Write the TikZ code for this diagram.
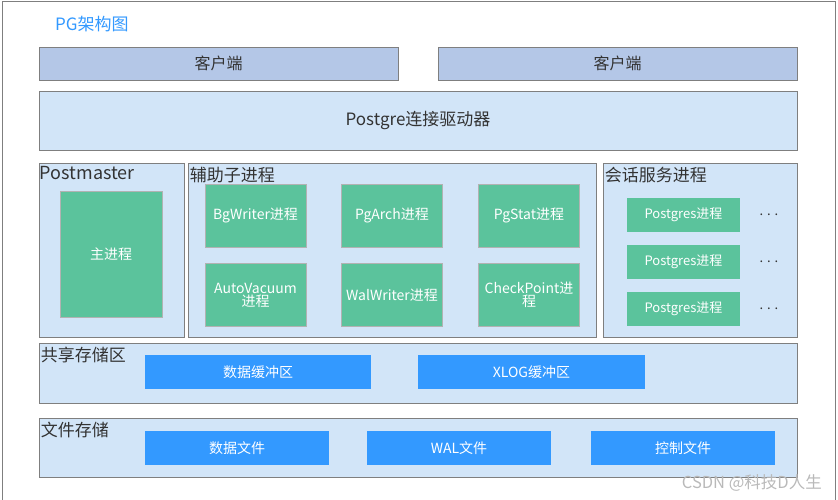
\documentclass[tikz,border=0pt]{standalone}
\usepackage{fontspec}
\setmainfont{Noto Sans CJK SC}
\usepackage{tikz}
\definecolor{clientfill}{HTML}{B4C7E7}
\definecolor{areafill}{HTML}{D2E5F8}
\definecolor{edgegray}{HTML}{7F7F7F}
\definecolor{procgreen}{HTML}{5BC39C}
\definecolor{storeblue}{HTML}{3399FF}
\definecolor{labelgray}{HTML}{333333}
\tikzset{
  area/.style={draw=edgegray, line width=0.8pt, fill=areafill, inner sep=0pt},
  client/.style={draw=edgegray, line width=0.8pt, fill=clientfill, text=labelgray,
    font=\fontsize{16}{16}\selectfont, minimum width=359pt, minimum height=33pt},
  proc/.style={draw=edgegray!60, line width=0.4pt, fill=procgreen, text=white, align=center,
    font=\fontsize{14}{13}\selectfont, minimum width=101pt, minimum height=63pt, inner sep=0pt},
  sess/.style={fill=procgreen, text=white, font=\fontsize{13}{13}\selectfont,
    minimum width=113pt, minimum height=34pt},
  store/.style={fill=storeblue, text=white, font=\fontsize{14}{14}\selectfont, minimum height=34pt},
  arealabel/.style={anchor=north west, inner xsep=2pt, inner ysep=0pt, yshift=-4pt,
    text=labelgray, font=\fontsize{17}{17}\selectfont}
}
\begin{document}
\begin{tikzpicture}[x=1pt, y=-1pt]
  \useasboundingbox (0,0) rectangle (838,500);
  \draw[edgegray, line width=0.8pt] (2,500) -- (2,1.5) -- (835,1.5) -- (835,500);

  \node[anchor=west, inner sep=0pt, text=storeblue, font=\fontsize{17}{17}\selectfont] (title) at (55,24) {PG架构图};

  % clients and driver
  \node[client] (clientL) at (218.5,63.5) {客户端};
  \node[client] (clientR) at (617.5,63.5) {客户端};
  \node[area, minimum width=758pt, minimum height=59pt, text=labelgray,
    font=\fontsize{17}{17}\selectfont] (driver) at (418,120.5) {Postgre连接驱动器};

  % postmaster
  \node[area, minimum width=145pt, minimum height=174pt] (postmaster) at (111.5,250) {};
  \node[arealabel, inner xsep=1pt, font=\fontsize{18}{18}\selectfont] (postmasterLabel) at (postmaster.north west) {Postmaster};
  \node[proc, minimum width=102pt, minimum height=126pt] (mainProc) at (111,254) {主进程};

  % auxiliary processes
  \node[area, minimum width=408pt, minimum height=174pt] (aux) at (392,250) {};
  \node[arealabel] (auxLabel) at (aux.north west) {辅助子进程};
  \node[proc] (bgwriter) at (255.5,215.5) {BgWriter进程};
  \node[proc] (pgarch) at (392,215.5) {PgArch进程};
  \node[proc] (pgstat) at (529,215.5) {PgStat进程};
  \node[proc] (autovacuum) at (255.5,295) {AutoVacuum\\进程};
  \node[proc] (walwriter) at (392,295) {WalWriter进程};
  \node[proc] (checkpoint) at (529,295) {CheckPoint进\\程};

  % session processes
  \node[area, minimum width=194pt, minimum height=174pt] (session) at (700,250) {};
  \node[arealabel] (sessionLabel) at (session.north west) {会话服务进程};
  \foreach \y [count=\i] in {215,262,309} {
    \node[sess] (pg\i) at (683.5,\y) {Postgres进程};
    \node[text=labelgray, font=\fontsize{13}{13}\selectfont] (dots\i) at (769,\y) {. . .};
  }

  % shared memory
  \node[area, minimum width=758pt, minimum height=60pt] (shared) at (418,373) {};
  \node[arealabel] (sharedLabel) at (shared.north west) {共享存储区};
  \node[store, minimum width=226pt] (databuf) at (258,372) {数据缓冲区};
  \node[store, minimum width=227pt] (xlogbuf) at (531.5,372) {XLOG缓冲区};

  % file storage
  \node[area, minimum width=758pt, minimum height=59pt] (files) at (418,447.5) {};
  \node[arealabel] (filesLabel) at (files.north west) {文件存储};
  \node[store, minimum width=184pt] (datafile) at (237,448) {数据文件};
  \node[store, minimum width=184pt] (walfile) at (459,448) {WAL文件};
  \node[store, minimum width=184pt] (ctrlfile) at (683,448) {控制文件};

  \node[anchor=east, inner sep=0pt, text=gray!55, font=\fontsize{16.5}{16.5}\selectfont] (mark) at (822,483) {CSDN @科技D人生};
\end{tikzpicture}
\end{document}
